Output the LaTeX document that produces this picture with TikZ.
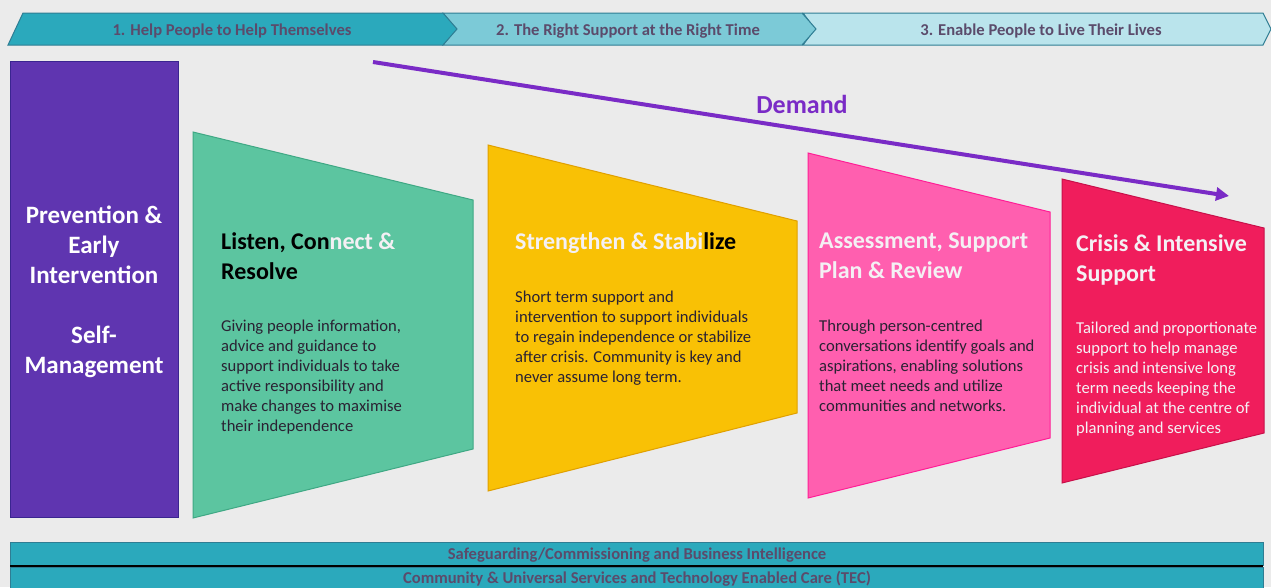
\documentclass[tikz,border=0pt]{standalone}
\usepackage{fontspec}
\setmainfont{Carlito}
\usetikzlibrary{arrows.meta}

\definecolor{bgcol}{HTML}{EBEBEB}
\definecolor{tealA}{HTML}{2BA9BC}
\definecolor{tealB}{HTML}{7CCAD7}
\definecolor{tealC}{HTML}{BAE4EC}
\definecolor{tealedge}{HTML}{2F7D93}
\definecolor{bandtext}{HTML}{5B4B6B}
\definecolor{purplebox}{HTML}{5F35B0}
\definecolor{purpleedge}{HTML}{3A2590}
\definecolor{greenbox}{HTML}{5CC5A0}
\definecolor{greenedge}{HTML}{3FA884}
\definecolor{yellowbox}{HTML}{F9C105}
\definecolor{yellowedge}{HTML}{E0A000}
\definecolor{pinkbox}{HTML}{FF5FAF}
\definecolor{pinkedge}{HTML}{FF1E96}
\definecolor{crimsonbox}{HTML}{F01D5C}
\definecolor{crimsonedge}{HTML}{C8104A}
\definecolor{demandcol}{HTML}{7A2BC6}
\definecolor{bodydark}{HTML}{2A2233}
\definecolor{headwhite}{HTML}{F4F0F4}

\tikzset{
  band/.style={draw=tealedge, line width=1pt, line join=miter},
  bandlabel/.style={text=bandtext, font=\bfseries\fontsize{16.6}{18}\selectfont, inner sep=0pt},
  panel/.style={line width=1pt},
  heading/.style={anchor=north west, inner sep=0pt, align=left, font=\bfseries\fontsize{24}{30}\selectfont},
  bodytext/.style={anchor=north west, inner sep=0pt, align=left, font=\fontsize{16.6}{20}\selectfont},
  bar/.style={fill=tealA, draw=tealedge, line width=0.8pt},
}

\begin{document}
\begin{tikzpicture}[x=1pt, y=-1pt]
  \useasboundingbox (0,0) rectangle (1271,587);
  \fill[bgcol] (0,0) rectangle (1271,587);

  % three stage chevrons along the top
  \draw[band, fill=tealC] (803,13) -- (1263,13) -- (1271,29) -- (1263,45) -- (803,45) -- (815,29) -- cycle;
  \draw[band, fill=tealB] (443,13) -- (802,13) -- (816,29) -- (802,45) -- (443,45) -- (456,29) -- cycle;
  \draw[band, fill=tealA] (23,13) -- (443,13) -- (457,29) -- (443,45) -- (8,45) -- cycle;
  \node[bandlabel] (stage1) at (232,31) {1. Help People to Help Themselves};
  \node[bandlabel] (stage2) at (628,31) {2. The Right Support at the Right Time};
  \node[bandlabel] (stage3) at (1041,31) {3. Enable People to Live Their Lives};

  % left column
  \draw[panel, fill=purplebox, draw=purpleedge] (10,61) rectangle (178,517);
  \node[text=white, font=\bfseries\fontsize{25}{30}\selectfont, align=center, inner sep=0pt]
    (prevention) at (94,292) {Prevention \&\\Early\\Intervention\\[30pt]Self-\\Management};

  % demand arrow
  \coordinate (dstart) at (373,62);
  \coordinate (dend) at (1229,196);
  \draw[demandcol, line width=4pt, -{Triangle[length=13pt,width=13pt]}] (dstart) -- (dend);
  \node[text=demandcol, font=\bfseries\fontsize{26}{28}\selectfont, inner sep=0pt] (demand) at (802,104) {Demand};

  % green panel
  \draw[panel, fill=greenbox, draw=greenedge] (193,132) -- (473,200) -- (473,449) -- (193,518) -- cycle;
  \node[heading, text=black] (listenhead) at (221,232)
    {Listen, Con\textcolor{headwhite}{nect \&}\\Resolve};
  \node[bodytext, text=bodydark] (listenbody) at (221,320)
    {Giving people information,\\advice and guidance to\\support individuals to take\\active responsibility and\\make changes to maximise\\their independence};

  % yellow panel
  \draw[panel, fill=yellowbox, draw=yellowedge] (488,145) -- (797,221) -- (797,413) -- (488,491) -- cycle;
  \node[heading, text=headwhite] (stronghead) at (515,232)
    {Strengthen \& Stabi\textcolor{black}{lize}};
  \node[bodytext, text=bodydark] (strongbody) at (515,291)
    {Short term support and\\intervention to support individuals\\to regain independence or stabilize\\after crisis. Community is key and\\never assume long term.};

  % pink panel
  \draw[panel, fill=pinkbox, draw=pinkedge] (808,153) -- (1050,212) -- (1050,438) -- (808,498) -- cycle;
  \node[heading, text=headwhite] (assesshead) at (819,233)
    {Assessment, Support\\Plan \& Review};
  \node[bodytext, text=bodydark] (assessbody) at (819,320)
    {Through person-centred\\conversations identify goals and\\aspirations, enabling solutions\\that meet needs and utilize\\communities and networks.};

  % crimson panel
  \draw[panel, fill=crimsonbox, draw=crimsonedge] (1062,179) -- (1264,228) -- (1264,433) -- (1062,483) -- cycle;
  \node[heading, text=headwhite] (crisishead) at (1076,234)
    {Crisis \& Intensive\\Support};
  \node[bodytext, text=headwhite] (crisisbody) at (1076,322)
    {Tailored and proportionate\\support to help manage\\crisis and intensive long\\term needs keeping the\\individual at the centre of\\planning and services};

  % foundation bars along the bottom
  \draw[bar] (10,542) rectangle (1263,565);
  \draw[bar] (10,567) rectangle (1263,595);
  \draw[black, line width=1.2pt] (10,566) -- (1263,566);
  \node[bandlabel] (safeguard) at (637,555) {Safeguarding/Commissioning and Business Intelligence};
  \node[bandlabel] (community) at (637,578.5) {Community \& Universal Services and Technology Enabled Care (TEC)};
\end{tikzpicture}
\end{document}
